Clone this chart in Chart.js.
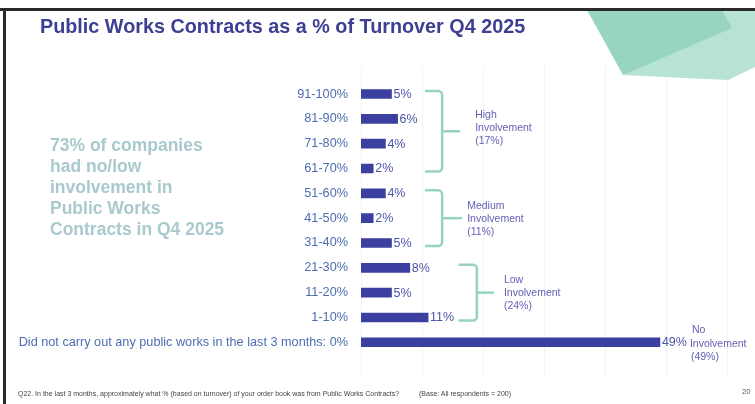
<!DOCTYPE html>
<html><head><meta charset="utf-8">
<script src="https://cdn.jsdelivr.net/npm/chart.js@4.4.1/dist/chart.umd.min.js"></script>
<style>
html,body{margin:0;padding:0;background:#fff;}
#wrap{position:relative;width:755px;height:404px;overflow:hidden;font-family:"Liberation Sans",Arial,sans-serif;}
canvas{position:absolute;left:0;top:0;}
.t{position:absolute;white-space:nowrap;}
</style></head><body>
<div id="wrap">
<canvas id="c" width="755" height="404"></canvas>
<div class="t" style="left:40px;top:14px;font-size:19.8px;line-height:24px;font-weight:bold;color:#3d3f92;">Public Works Contracts as a % of Turnover Q4 2025</div>
<div class="t" style="left:50px;top:134.5px;font-size:17.5px;line-height:21px;font-weight:bold;color:#a9c9cd;">73% of companies<br>had no/low<br>involvement in<br>Public Works<br>Contracts in Q4 2025</div>
<div class="t" style="left:18px;top:389px;font-size:7px;line-height:10px;color:#444;">Q22. In the last 3 months, approximately what % (based on turnover) of your order book was from Public Works Contracts?</div>
<div class="t" style="left:419px;top:389px;font-size:7px;line-height:10px;color:#444;">(Base: All respondents = 200)</div>
<div class="t" style="left:742px;top:387px;font-size:7.5px;line-height:10px;color:#555;">20</div>
</div>
<script>
const categories = ['91-100%','81-90%','71-80%','61-70%','51-60%','41-50%','31-40%','21-30%','11-20%','1-10%','Did not carry out any public works in the last 3 months: 0%'];
const values = [5,6,4,2,4,2,5,8,5,11,49];
const valueLabels = ['5%','6%','4%','2%','4%','2%','5%','8%','5%','11%','49%'];
const xTicks = [0,10,20,30,40,50,60];
const groupLabels = [['High','Involvement','(17%)'],['Medium','Involvement','(11%)'],['Low','Involvement','(24%)']];
const groupStart = [0,4,7];
const groupEnd = [3,6,9];
const noInvolvementLabel = ['No','Involvement','(49%)'];

// annotation styling (pixel offsets, not data)
const bracketStyle = [
  {x1:10.5, x2:13.3, tick:18, tx:33, dy:-3.5},
  {x1:10.5, x2:13.3, tick:20, tx:25, dy:1},
  {x1:16,   x2:19,   tick:17, tx:27, dy:0}
];

const FONT = '"Liberation Sans", Arial, sans-serif';

const decor = {
  id:'decor',
  beforeDraw(chart){
    const ctx = chart.ctx;
    ctx.save();
    ctx.fillStyle = '#fff';
    ctx.fillRect(0,0,chart.width,chart.height);
    // grid lines
    const xs = chart.scales.x;
    ctx.strokeStyle = '#f2f3f4';
    ctx.lineWidth = 1;
    xTicks.forEach(v=>{
      const px = Math.round(xs.getPixelForValue(v))+0.5;
      ctx.beginPath(); ctx.moveTo(px,66); ctx.lineTo(px,378); ctx.stroke();
    });
    // decorative shapes top right
    ctx.fillStyle = '#b6e3d4';
    ctx.beginPath();
    ctx.moveTo(623,75); ctx.lineTo(728,80); ctx.lineTo(755,67); ctx.lineTo(755,10); ctx.lineTo(718,10);
    ctx.closePath(); ctx.fill();
    ctx.fillStyle = '#98d5bf';
    ctx.beginPath();
    ctx.moveTo(587,10); ctx.lineTo(722,10); ctx.lineTo(732,28); ctx.lineTo(623,75);
    ctx.closePath(); ctx.fill();
    // frame
    ctx.fillStyle = '#2a2a2a';
    ctx.fillRect(0,8,755,3);
    ctx.fillRect(3,8,3,396);
    ctx.restore();
  },
  afterDatasetsDraw(chart){
    const ctx = chart.ctx;
    const xs = chart.scales.x, ys = chart.scales.y;
    const meta = chart.getDatasetMeta(0);
    ctx.save();
    // value labels
    ctx.font = '12.5px ' + FONT;
    ctx.fillStyle = '#4b55a8';
    ctx.textBaseline = 'middle';
    ctx.textAlign = 'left';
    let lastEnd = 0;
    meta.data.forEach((el,i)=>{
      ctx.fillText(valueLabels[i], el.x+2, el.y+0.5);
      if(i===meta.data.length-1) lastEnd = el.x+2+ctx.measureText(valueLabels[i]).width;
    });
    // brackets
    ctx.strokeStyle = '#96d5b9';
    ctx.lineWidth = 2.5;
    ctx.lineCap = 'butt';
    groupLabels.forEach((lab,g)=>{
      const s = bracketStyle[g];
      const x1 = xs.getPixelForValue(s.x1), x2 = xs.getPixelForValue(s.x2);
      const yT = ys.getPixelForValue(groupStart[g]) - 3;
      const yB = ys.getPixelForValue(groupEnd[g]) + 3;
      const ym = (yT+yB)/2, r = 4;
      ctx.beginPath();
      ctx.moveTo(x1,yT); ctx.lineTo(x2-r,yT); ctx.arcTo(x2,yT,x2,yT+r,r);
      ctx.lineTo(x2,yB-r); ctx.arcTo(x2,yB,x2-r,yB,r); ctx.lineTo(x1,yB);
      ctx.stroke();
      ctx.beginPath(); ctx.moveTo(x2,ym); ctx.lineTo(x2+s.tick,ym); ctx.stroke();
      ctx.font = '10.5px ' + FONT;
      ctx.fillStyle = '#6461b5';
      lab.forEach((t,k)=>{
        ctx.fillText(t, x2+s.tx, ym + s.dy + (k-1)*13);
      });
    });
    // no involvement label
    const lastEl = meta.data[meta.data.length-1];
    ctx.font = '10.5px ' + FONT;
    ctx.fillStyle = '#6461b5';
    noInvolvementLabel.forEach((t,k)=>{
      ctx.fillText(t, lastEnd+3 + (k===0?2:(k===2?1:0)), lastEl.y + 1.5 + (k-1)*13.5);
    });
    ctx.restore();
  }
};

new Chart(document.getElementById('c'), {
  type:'bar',
  data:{labels:categories, datasets:[{data:values, backgroundColor:'#3b3f9f', barThickness:9, borderWidth:0}]},
  options:{
    indexAxis:'y', responsive:false, animation:false, devicePixelRatio:1,
    layout:{padding:{top:81.6,bottom:49.3,left:0,right:28}},
    plugins:{legend:{display:false}, tooltip:{enabled:false}},
    scales:{
      x:{display:false, min:0, max:60},
      y:{
        grid:{display:false, drawTicks:false}, border:{display:false},
        ticks:{color:'#4e6db0', font:{family:FONT, size:12.7}, padding:13, autoSkip:false},
        afterFit(s){ s.width = 361; }
      }
    }
  },
  plugins:[decor]
});
</script>
</body></html>
